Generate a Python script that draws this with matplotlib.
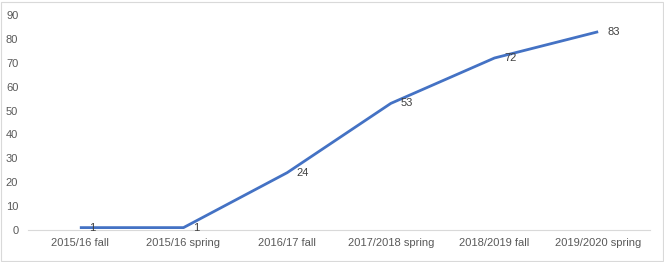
import matplotlib.pyplot as plt
import matplotlib.patches as mpatches

semestres = ["2015/16 fall", "2015/16 spring", "2016/17 fall",
             "2017/2018 spring", "2018/2019 fall", "2019/2020 spring"]
valores = [1, 1, 24, 53, 72, 83]
ticks_y = [0, 10, 20, 30, 40, 50, 60, 70, 80, 90]

plt.rcParams['font.family'] = ['Liberation Sans', 'DejaVu Sans']

fig = plt.figure(figsize=(6.64, 2.62), dpi=100)
ax = fig.add_axes([28 / 664, 1 - 230 / 262, 622 / 664, 215 / 262])

x = list(range(len(semestres)))
ax.plot(x, valores, color="#4472C4", linewidth=2.0, solid_joinstyle="round",
        solid_capstyle="butt", zorder=3)

# etiquetas a la derecha de cada punto
for xi, v in zip(x, valores):
    ax.annotate(str(v), (xi, v), xytext=(7, 0), textcoords="offset points",
                ha="left", va="center", fontsize=8, color="#404040")

ax.set_xlim(-0.5, len(semestres) - 0.5)
ax.set_ylim(0, 90)
ax.set_xticks(x)
ax.set_xticklabels(semestres)
ax.set_yticks(ticks_y)
ax.tick_params(axis="both", length=0, labelsize=8, labelcolor="#595959")
ax.tick_params(axis="x", pad=6)
ax.tick_params(axis="y", pad=7)

for lado in ["top", "right", "left"]:
    ax.spines[lado].set_visible(False)
ax.spines["bottom"].set_color("#D9D9D9")
ax.spines["bottom"].set_linewidth(0.8)

# borde del area del grafico
fig.patches.append(mpatches.Rectangle((0.5 / 664, 1 / 262), 662 / 664, 259 / 262,
                                      transform=fig.transFigure, fill=False,
                                      edgecolor="#D9D9D9", linewidth=0.8))

fig.savefig("out.png", dpi=100)
plt.close()
